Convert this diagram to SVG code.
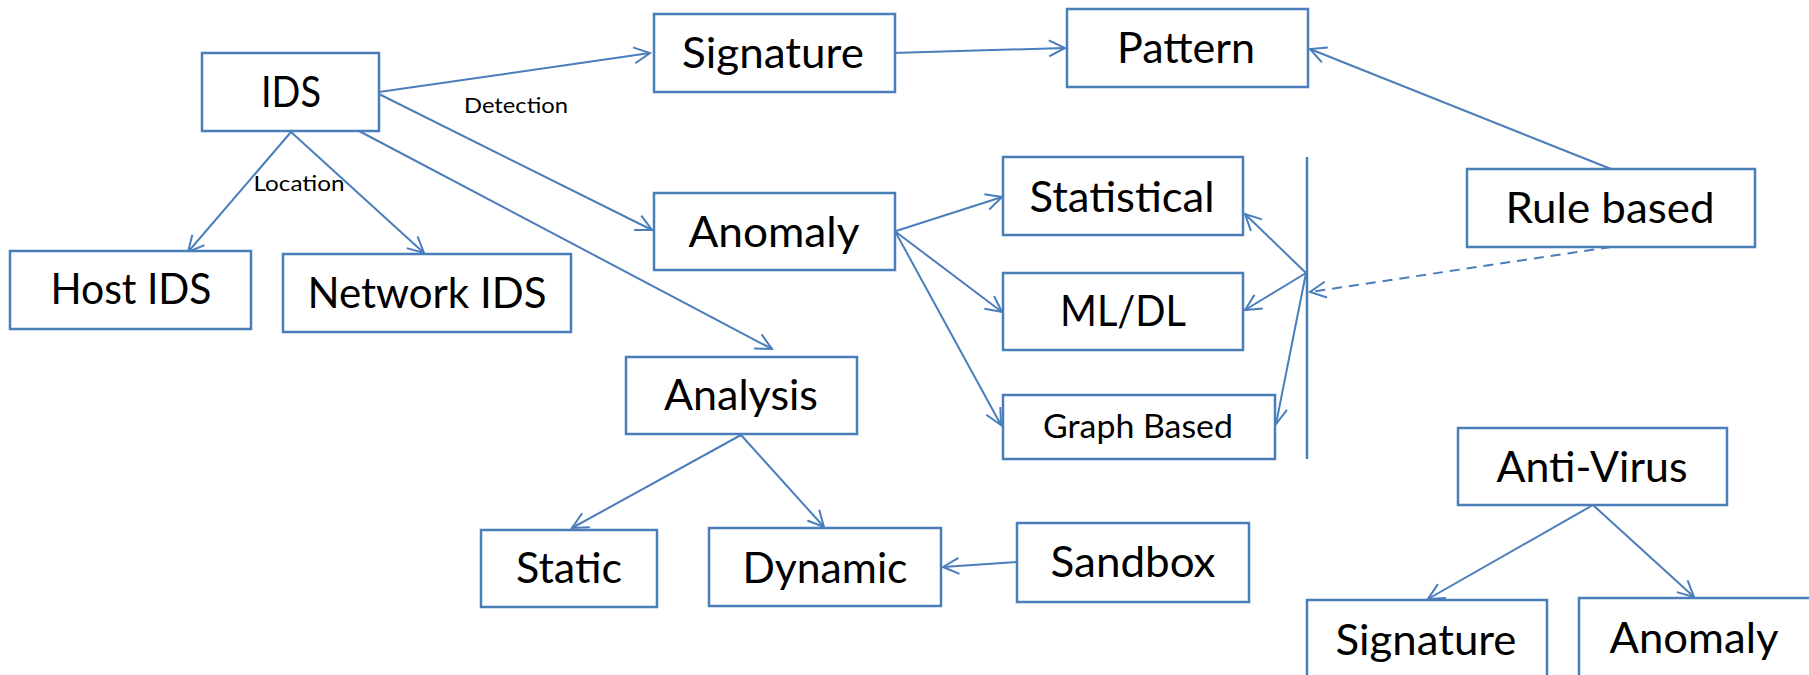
<svg xmlns="http://www.w3.org/2000/svg" width="1809" height="675" viewBox="0 0 1809 675">
<defs>
<style>
.box{fill:#fff;stroke:#4a7ebb;stroke-width:2.5}
.t{font-family:Lato,"Open Sans","Liberation Sans",sans-serif;font-size:42px;fill:#000;text-anchor:middle}
.s{font-size:21px}
.g{font-size:32px}
.c{fill:none;stroke:#4a7ebb;stroke-width:2;marker-end:url(#arr)}
.d{stroke-dasharray:10 7}
</style>
<marker id="arr" markerUnits="userSpaceOnUse" markerWidth="40" markerHeight="40" viewBox="-20 -20 40 40" refX="0" refY="0" orient="auto" overflow="visible">
<path d="M-16,-8 L0,0 L-16,8" fill="none" stroke="#4a7ebb" stroke-width="2"/>
</marker>
</defs>
<rect width="1809" height="675" fill="#fff"/>
<g id="connectors">
<line class="c" x1="379" y1="92" x2="650" y2="53"/>
<line class="c" x1="379" y1="94" x2="652" y2="230"/>
<line class="c" x1="359" y1="131" x2="772" y2="349"/>
<line class="c" x1="291" y1="132" x2="188" y2="252"/>
<line class="c" x1="291" y1="132" x2="424" y2="253"/>
<line class="c" x1="892" y1="53" x2="1065" y2="48"/>
<line class="c" x1="1611" y1="169" x2="1310" y2="49"/>
<line class="c" x1="896" y1="231" x2="1002" y2="197"/>
<line class="c" x1="896" y1="232" x2="1002" y2="312"/>
<line class="c" x1="896" y1="233" x2="1001" y2="425"/>
<line x1="1307" y1="157" x2="1307" y2="459" stroke="#4a7ebb" stroke-width="2.5"/>
<line class="c" x1="1306" y1="273" x2="1245" y2="214"/>
<line class="c" x1="1306" y1="273" x2="1245" y2="310"/>
<line class="c" x1="1306" y1="273" x2="1276" y2="424"/>
<line class="c d" x1="1611" y1="247" x2="1310" y2="292"/>
<line class="c" x1="741" y1="435" x2="572" y2="528"/>
<line class="c" x1="741" y1="435" x2="824" y2="527"/>
<line class="c" x1="1017" y1="562" x2="943" y2="567"/>
<line class="c" x1="1593" y1="505" x2="1428" y2="599"/>
<line class="c" x1="1593" y1="505" x2="1694" y2="597"/>
</g>
<g id="ids"><rect class="box" x="202" y="53" width="177" height="78"/><text class="t" x="291" y="107" textLength="60" lengthAdjust="spacingAndGlyphs">IDS</text></g>
<g id="host-ids"><rect class="box" x="10" y="251" width="241" height="78"/><text class="t" x="131" y="304" textLength="161" lengthAdjust="spacingAndGlyphs">Host IDS</text></g>
<g id="network-ids"><rect class="box" x="283" y="254" width="288" height="78"/><text class="t" x="427" y="308" textLength="239" lengthAdjust="spacingAndGlyphs">Network IDS</text></g>
<g id="label-detection"><text class="t s" x="516" y="113" textLength="104" lengthAdjust="spacingAndGlyphs">Detection</text></g>
<g id="label-location"><text class="t s" x="299" y="191" textLength="91" lengthAdjust="spacingAndGlyphs">Location</text></g>
<g id="signature"><rect class="box" x="654" y="14" width="241" height="78"/><text class="t" x="773" y="68" textLength="182" lengthAdjust="spacingAndGlyphs">Signature</text></g>
<g id="pattern"><rect class="box" x="1067" y="9" width="241" height="78"/><text class="t" x="1186" y="63" textLength="138" lengthAdjust="spacingAndGlyphs">Pattern</text></g>
<g id="anomaly"><rect class="box" x="654" y="193" width="241" height="77"/><text class="t" x="774" y="247" textLength="171" lengthAdjust="spacingAndGlyphs">Anomaly</text></g>
<g id="statistical"><rect class="box" x="1003" y="157" width="240" height="78"/><text class="t" x="1122" y="212" textLength="185" lengthAdjust="spacingAndGlyphs">Statistical</text></g>
<g id="ml-dl"><rect class="box" x="1003" y="273" width="240" height="77"/><text class="t" x="1123" y="326" textLength="126" lengthAdjust="spacingAndGlyphs">ML/DL</text></g>
<g id="graph-based"><rect class="box" x="1003" y="395" width="272" height="64"/><text class="t g" x="1138" y="438" textLength="190" lengthAdjust="spacingAndGlyphs">Graph Based</text></g>
<g id="rule-based"><rect class="box" x="1467" y="169" width="288" height="78"/><text class="t" x="1610" y="223" textLength="209" lengthAdjust="spacingAndGlyphs">Rule based</text></g>
<g id="analysis"><rect class="box" x="626" y="357" width="231" height="77"/><text class="t" x="741" y="410" textLength="154" lengthAdjust="spacingAndGlyphs">Analysis</text></g>
<g id="static"><rect class="box" x="481" y="530" width="176" height="77"/><text class="t" x="569" y="583" textLength="106" lengthAdjust="spacingAndGlyphs">Static</text></g>
<g id="dynamic"><rect class="box" x="709" y="528" width="232" height="78"/><text class="t" x="825" y="583" textLength="165" lengthAdjust="spacingAndGlyphs">Dynamic</text></g>
<g id="sandbox"><rect class="box" x="1017" y="523" width="232" height="79"/><text class="t" x="1133" y="577" textLength="165" lengthAdjust="spacingAndGlyphs">Sandbox</text></g>
<g id="anti-virus"><rect class="box" x="1458" y="428" width="269" height="77"/><text class="t" x="1592" y="482" textLength="191" lengthAdjust="spacingAndGlyphs">Anti-Virus</text></g>
<g id="av-signature"><rect class="box" x="1307" y="600" width="240" height="90"/><text class="t" x="1426" y="655" textLength="181" lengthAdjust="spacingAndGlyphs">Signature</text></g>
<g id="av-anomaly"><rect class="box" x="1579" y="598" width="240" height="90"/><text class="t" x="1694" y="653" textLength="169" lengthAdjust="spacingAndGlyphs">Anomaly</text></g>
</svg>
